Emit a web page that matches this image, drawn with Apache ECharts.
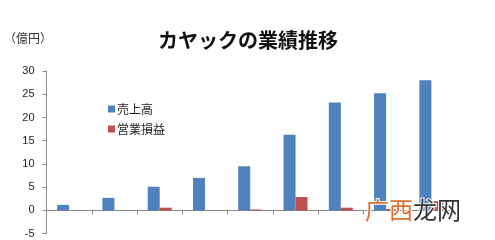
<!DOCTYPE html>
<html>
<head>
<meta charset="utf-8">
<script src="https://cdn.jsdelivr.net/npm/echarts@6/dist/echarts.min.js"></script>
<style>html,body{margin:0;padding:0;background:#fff}#c{width:495px;height:240px}</style>
</head>
<body>
<div id="c"></div>
<script>
var categories = ['1','2','3','4','5','6','7','8','9'];
var sales = [1.2, 2.7, 5.1, 7.0, 9.5, 16.3, 23.2, 25.2, 28.0];
var profit = [0, 0, 0.6, 0, 0.2, 2.9, 0.6, 0.3, 2.0];
var yTicks = { min: -5, max: 30, interval: 5 };

var chart = echarts.init(document.getElementById('c'));
var font = '"Noto Sans CJK JP", "Noto Sans", sans-serif';
chart.setOption({
  animation: false,
  backgroundColor: '#fff',
  title: {
    text: 'カヤックの業績推移',
    left: 243, top: 25, textAlign: 'center',
    textStyle: { fontFamily: font, fontSize: 20, fontWeight: 'bold', color: '#111' }
  },
  legend: {
    orient: 'vertical', left: 103, top: 98, itemWidth: 7, itemHeight: 7, itemGap: 8,
    icon: 'rect',
    textStyle: { fontFamily: font, fontSize: 12, color: '#222', padding: [0,0,0,-3] },
    data: ['売上高', '営業損益']
  },
  grid: { left: 46.5, right: 41, top: 71, bottom: 6.3, containLabel: false },
  xAxis: {
    type: 'category', data: categories,
    axisLine: { lineStyle: { color: '#888' } },
    axisTick: { show: true, length: 4, lineStyle: { color: '#888' } },
    axisLabel: { show: false }
  },
  yAxis: {
    type: 'value', min: yTicks.min, max: yTicks.max, interval: yTicks.interval,
    splitLine: { show: false },
    axisLine: { show: true, lineStyle: { color: '#888' } },
    axisTick: { show: true, length: 4, lineStyle: { color: '#888' } },
    axisLabel: { fontFamily: '"Liberation Sans", Arial, sans-serif', fontSize: 11, color: '#222', margin: 12 }
  },
  series: [
    { name: '売上高', type: 'bar', data: sales, barWidth: 12, barGap: '0%', itemStyle: { color: '#4f81bd' } },
    { name: '営業損益', type: 'bar', data: profit, barWidth: 12, itemStyle: { color: '#c0504d' } }
  ],
  graphic: [
    { type: 'text', left: 4, top: 32, style: { text: '（億円）', font: '12px ' + font, fill: '#333' } },
    { type: 'text', left: 364, top: 197, z: 100, style: { text: '广西', font: '24px ' + font, fill: '#e07030', stroke: '#fff', lineWidth: 2 } },
    { type: 'text', left: 412, top: 197, z: 100, style: { text: '龙网', font: '24px ' + font, fill: '#333', stroke: '#fff', lineWidth: 2 } }
  ]
});
</script>
</body>
</html>
